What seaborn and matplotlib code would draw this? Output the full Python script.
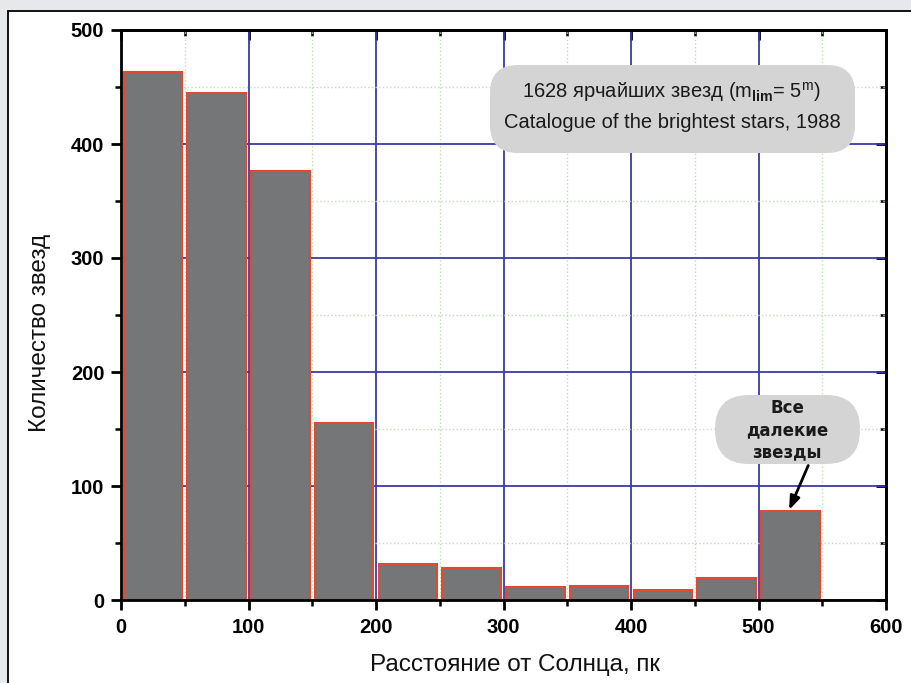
import matplotlib
matplotlib.use("Agg")
import matplotlib.pyplot as plt
import seaborn as sns
import numpy as np
from matplotlib.patches import FancyBboxPatch, Rectangle
from matplotlib.transforms import IdentityTransform
from matplotlib.ticker import MultipleLocator

# ---- data ----
bin_edges = [0, 50, 100, 150, 200, 250, 300, 350, 400, 450, 500, 550]
bin_centers = [25, 75, 125, 175, 225, 275, 325, 375, 425, 475, 525]
counts = [463, 445, 376, 155, 32, 28, 11, 12, 9, 19, 78]
x_ticks = [0, 100, 200, 300, 400, 500, 600]
y_ticks = [0, 100, 200, 300, 400, 500]
x_label = "Расстояние от Солнца, пк"
y_label = "Количество звезд"
note1_line1 = r"1628 ярчайших звезд (m$_{\mathbf{lim}}$= 5$^{\mathrm{m}}$)"
note1_line2 = "Catalogue of the brightest stars, 1988"
note2 = "Все\nдалекие\nзвезды"

sns.set_style("white")
plt.rcParams["font.family"] = ["Liberation Sans", "DejaVu Sans"]
plt.rcParams["mathtext.fontset"] = "custom"
plt.rcParams["mathtext.rm"] = "Liberation Sans"
plt.rcParams["mathtext.bf"] = "Liberation Sans:bold"

W, H = 911, 683
fig = plt.figure(figsize=(W / 100, H / 100), dpi=100, facecolor="#e6e8ec")
fig.patches.append(Rectangle((8, -20), 940, H - 11 + 20, transform=IdentityTransform(),
                             facecolor="white", edgecolor="black", lw=1.3, zorder=-10))

ax = fig.add_axes([121 / W, (H - 600) / H, 765 / W, 570 / H])
ax.set_facecolor("white")
ax.set_axisbelow(True)

sns.histplot(x=bin_centers, weights=counts, bins=bin_edges, shrink=0.92,
             color="#747677", edgecolor="#e2492f", linewidth=1.5, alpha=1, ax=ax)

ax.set_xlim(0, 600)
ax.set_ylim(0, 500)
ax.set_xticks(x_ticks)
ax.set_yticks(y_ticks)
ax.xaxis.set_minor_locator(MultipleLocator(50))
ax.yaxis.set_minor_locator(MultipleLocator(50))
ax.grid(which="major", color="#3a3aa8", lw=1.3, linestyle="-")
ax.grid(which="minor", color="#c2dcb8", lw=1.0, linestyle=":")

for s in ax.spines.values():
    s.set_color("black")
    s.set_linewidth(2)

ax.tick_params(which="both", bottom=True, left=True, top=False, right=False,
               color="black")
ax.tick_params(which="major", direction="out", length=7, width=2, labelsize=14.5,
               labelcolor="black")
ax.tick_params(which="minor", direction="out", length=4.5, width=1.8)
ax.tick_params(axis="x", which="major", pad=6)
ax.tick_params(axis="y", which="major", pad=5)
for lab in ax.get_xticklabels() + ax.get_yticklabels():
    lab.set_fontweight("bold")

secx = ax.secondary_xaxis("top")
secx.set_xticks(x_ticks)
secx.xaxis.set_minor_locator(MultipleLocator(50))
secx.tick_params(which="both", top=True, bottom=False, labeltop=False, color="black")
secx.tick_params(which="major", direction="in", length=7, width=2)
secx.tick_params(which="minor", direction="in", length=4.5, width=1.8)
secx.set_xticklabels([])
secy = ax.secondary_yaxis("right")
secy.set_yticks(y_ticks)
secy.yaxis.set_minor_locator(MultipleLocator(50))
secy.tick_params(which="both", right=True, left=False, labelright=False, color="black")
secy.tick_params(which="major", direction="in", length=7, width=2)
secy.tick_params(which="minor", direction="in", length=4.5, width=1.8)
secy.set_yticklabels([])
for sa in (secx, secy):
    for s in sa.spines.values():
        s.set_linewidth(2)
        s.set_color("black")

ax.set_xlabel(x_label, fontsize=17.5, color="#111111")
ax.set_ylabel(y_label, fontsize=17.5, color="#111111")
ax.xaxis.set_label_coords(0.515, -0.095)
ax.yaxis.set_label_coords(-0.092, 0.468)

# annotation boxes (pixel coordinates)
box1 = FancyBboxPatch((490, H - 153), 365, 88, boxstyle="round,pad=0,rounding_size=28",
                      transform=IdentityTransform(), facecolor="#d4d4d4", edgecolor="none",
                      zorder=4, clip_on=False)
ax.add_artist(box1)
ax.text(672, H - 92, note1_line1, transform=IdentityTransform(), ha="center", va="center",
        fontsize=14.5, color="#1a1a1a", zorder=5)
ax.text(672, H - 123, note1_line2, transform=IdentityTransform(), ha="center", va="center",
        fontsize=14.5, color="#1a1a1a", zorder=5)

box2 = FancyBboxPatch((715, H - 464), 145, 69, boxstyle="round,pad=0,rounding_size=34",
                      transform=IdentityTransform(), facecolor="#d4d4d4", edgecolor="none",
                      zorder=4, clip_on=False)
ax.add_artist(box2)
ax.text(787, H - 430, note2, transform=IdentityTransform(), ha="center", va="center",
        fontsize=12, fontweight="bold", family="DejaVu Sans", linespacing=1.3,
        color="#1a1a1a", zorder=5)

ax.annotate("", xy=(524, 79), xytext=(539, 118),
            arrowprops=dict(arrowstyle="-|>,head_length=0.8,head_width=0.3", color="black",
                            lw=2, shrinkA=0, shrinkB=0), zorder=6)

fig.savefig("out.png", dpi=100, facecolor=fig.get_facecolor())
